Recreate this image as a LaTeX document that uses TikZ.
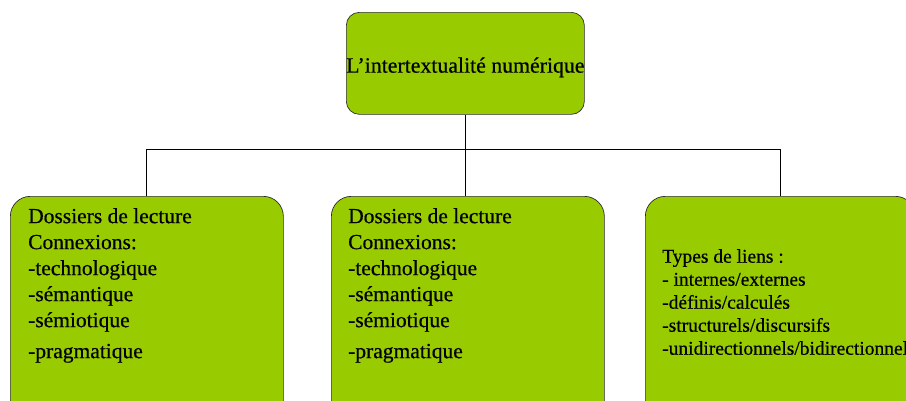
\documentclass[tikz,border=0pt]{standalone}
\usepackage{fontspec}
\setmainfont{Liberation Serif}[FakeBold=0.5]
\usepackage{tikz}
\definecolor{boxgreen}{RGB}{153, 204, 0}
\definecolor{boxedge}{RGB}{45, 45, 45}

\begin{document}
\begin{tikzpicture}[
	x=1pt, y=-1pt,
	box/.style={draw=boxedge, fill=boxgreen, line width=0.7pt,
		rounded corners=20pt, inner sep=0pt, anchor=north west},
	liste/.style={anchor=north west, align=left, inner sep=0pt},
	tie/.style={draw=black, line width=1.2pt}
	]

	\useasboundingbox (0,0) rectangle (906,400);
	\clip (0,0) rectangle (906,400);

	% top of the tree
	\node[box, rounded corners=13pt, minimum width=238pt, minimum height=102pt]
		(titre) at (346,12) {};
	\node[font=\fontsize{21.8}{25}\selectfont, inner sep=0pt]
		(titre-txt) at ([yshift=-4pt]titre.center)
			{L’intertextualité numérique};

	% the three branches
	\node[box, minimum width=273pt, minimum height=230pt]
		(dossiersA) at (10,196) {};
	\node[box, minimum width=273pt, minimum height=230pt]
		(dossiersB) at (331,196) {};
	\node[box, minimum width=270pt, minimum height=230pt]
		(liens) at (645,196) {};

	\node[liste, font=\fontsize{21.5}{26}\selectfont]
		(dossiersA-txt) at ([shift={(18,12)}]dossiersA.north west)
			{Dossiers de lecture\\Connexions:\\-technologique\\-sémantique\\-sémiotique\\[5pt]-pragmatique};
	\node[liste, font=\fontsize{21.5}{26}\selectfont]
		(dossiersB-txt) at ([shift={(17,12)}]dossiersB.north west)
			{Dossiers de lecture\\Connexions:\\-technologique\\-sémantique\\-sémiotique\\[5pt]-pragmatique};
	\node[liste, font=\fontsize{19.5}{23}\selectfont]
		(liens-txt) at ([shift={(17,53)}]liens.north west)
			{Types de liens :\\- internes/externes\\-définis/calculés\\-structurels/discursifs\\-unidirectionnels/bidirectionnels};

	% connectors
	\coordinate (bus) at ([yshift=-35pt]titre.south);
	\draw[tie] (titre.south) -- (titre.south |- dossiersB.north);
	\draw[tie] (dossiersA.north) |- (bus) -| (liens.north);
\end{tikzpicture}
\end{document}
